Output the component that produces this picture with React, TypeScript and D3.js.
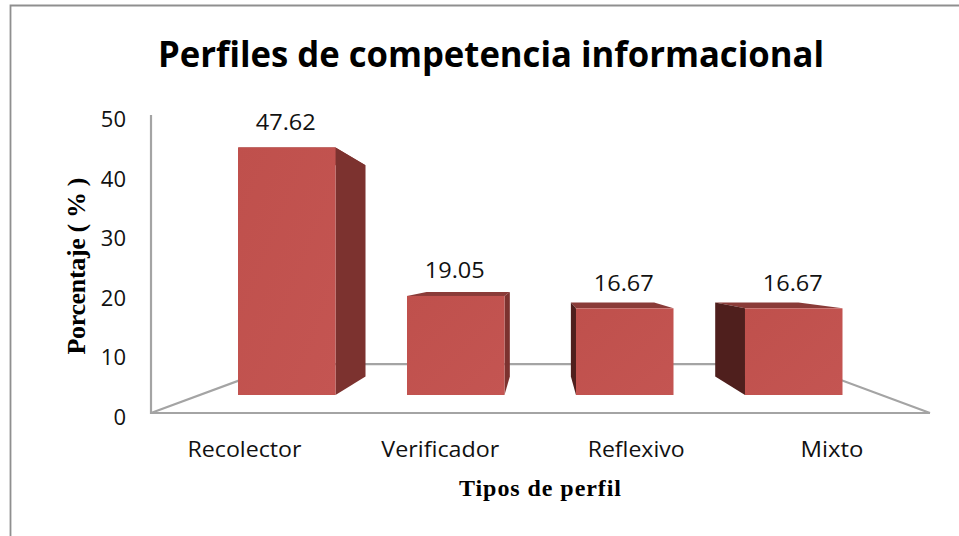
import React from "react";
import * as d3 from "d3";

const categories = ["Recolector", "Verificador", "Reflexivo", "Mixto"];
const categoryWidths = [114, 118, 97, 63];
const values = [47.62, 19.05, 16.67, 16.67];
const valueLabels = ["47.62", "19.05", "16.67", "16.67"];
const yTicks = [0, 10, 20, 30, 40, 50];
const title = "Perfiles de competencia informacional";
const yTitle = "Porcentaje  ( % )";
const xTitle = "Tipos de perfil";

const sans = "'Open Sans', 'Noto Sans', sans-serif";
const serif = "'Liberation Serif', serif";

// Perspective of the 3-D plot: vanishing point and depth of the bars / floor
const VX = 541, VY = 269, BAR_K = 0.854, FLOOR_K = 0.66;
const project = (x: number, y: number, k: number): [number, number] => [VX + (x - VX) * k, VY + (y - VY) * k];

export default function App() {
  const axisY = d3.scaleLinear().domain([0, 50]).range([413, 115]);
  const barY = d3.scaleLinear().domain([0, 50]).range([395, 135]);
  const barX = d3.scaleBand<string>().domain(categories).range([238, 842.5]).paddingInner(0.423).paddingOuter(0);
  const tickX = d3.scalePoint<string>().domain(categories).range([244.5, 832]);
  const line = d3.line();
  const poly = (pts: [number, number][]) => line(pts) + "Z";
  const floorBackL = project(151, 413, FLOOR_K);
  const floorBackR = project(930, 413, FLOOR_K);
  const y0 = barY(0);

  return (
    <svg width={959} height={536} style={{ position: "absolute", left: 0, top: 0, background: "#fff" }}>
      <defs>
        <linearGradient id="front" x1="0" y1="0" x2="1" y2="1">
          <stop offset="0" stopColor="#bf504c" />
          <stop offset="1" stopColor="#c45552" />
        </linearGradient>
        <filter id="soft" x="-5%" y="-5%" width="110%" height="110%">
          <feGaussianBlur stdDeviation="0.6" />
        </filter>
      </defs>
      <path d="M10.5,536V5.5H959" fill="none" stroke="#8f8f8f" strokeWidth={1.8} />
      <text x={491} y={67} textAnchor="middle" fontFamily={sans} fontWeight={700} fontSize={35} textLength={666} lengthAdjust="spacingAndGlyphs" fill="#000">{title}</text>

      {/* walls and floor */}
      <g fill="none" stroke="#a4a4a4" strokeWidth={2.2} filter="url(#soft)">
        <path d={line([[151, axisY(50)], [151, axisY(0)], [930, axisY(0)]])!} />
        <path d={line([[151, axisY(0)], floorBackL, floorBackR, [930, axisY(0)]])!} />
      </g>

      {yTicks.map((t) => (
        <text key={t} x={126} y={axisY(t) + 12} textAnchor="end" fontFamily={sans} fontSize={22} fill="#111">{t}</text>
      ))}

      {/* bars */}
      {categories.map((c, i) => {
        const x0 = barX(c)!;
        const x1 = x0 + barX.bandwidth();
        const yt = barY(values[i]);
        const ftl: [number, number] = [x0, yt], ftr: [number, number] = [x1, yt];
        const fbl: [number, number] = [x0, y0], fbr: [number, number] = [x1, y0];
        const btl = project(x0, yt, BAR_K), btr = project(x1, yt, BAR_K);
        const bbl = project(x0, y0, BAR_K), bbr = project(x1, y0, BAR_K);
        const showRight = btr[0] > x1;
        const showLeft = btl[0] < x0;
        return (
          <g key={c}>
            <path d={poly([ftl, ftr, btr, btl])} fill="#8a3b38" />
            {showRight && <path d={poly([ftr, btr, bbr, fbr])} fill="#7c322f" />}
            {showLeft && <path d={poly([ftl, btl, bbl, fbl])} fill="#4f1f1d" />}
            <rect x={x0} y={yt} width={x1 - x0} height={y0 - yt} fill="url(#front)" />
            <text x={(x0 + x1) / 2 - 1} y={yt - 17.5} textAnchor="middle" fontFamily={sans} fontSize={21.5} textLength={60} lengthAdjust="spacingAndGlyphs" fill="#111">{valueLabels[i]}</text>
          </g>
        );
      })}

      {categories.map((c, i) => (
        <text key={c} x={tickX(c)} y={457} textAnchor="middle" fontFamily={sans} fontSize={22} textLength={categoryWidths[i]} lengthAdjust="spacingAndGlyphs" fill="#111">{c}</text>
      ))}

      <text x={540} y={496} textAnchor="middle" fontFamily={serif} fontWeight={700} fontSize={24} textLength={162} fill="#000">{xTitle}</text>
      <text transform="translate(85,266) rotate(-90)" textAnchor="middle" fontFamily={serif} fontWeight={700} fontSize={26} textLength={177} fill="#000">{yTitle}</text>
    </svg>
  );
}
